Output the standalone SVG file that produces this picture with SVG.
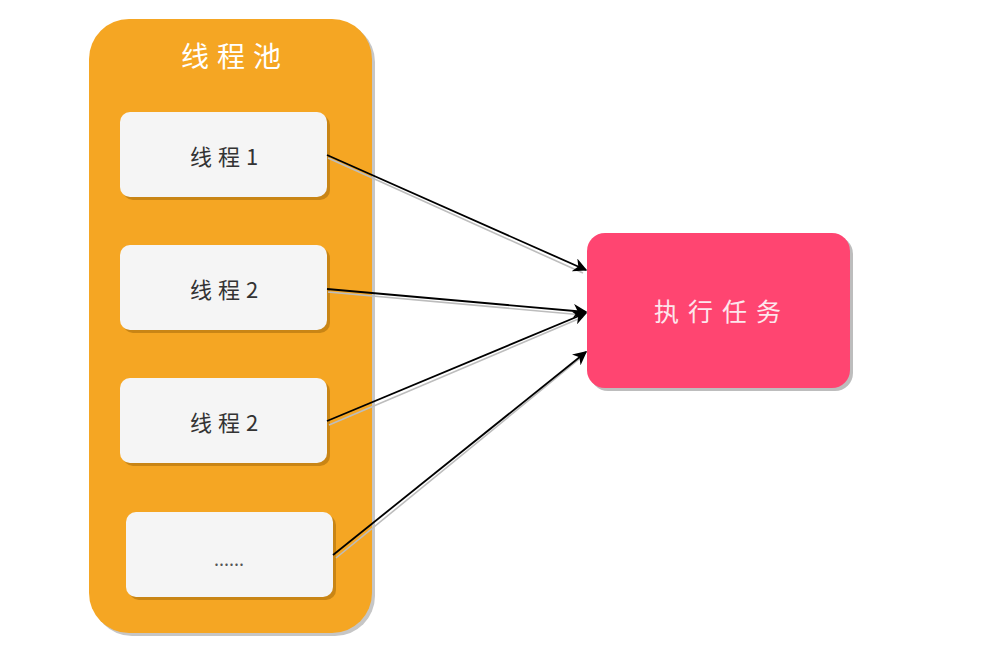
<svg xmlns="http://www.w3.org/2000/svg" width="992" height="649" viewBox="0 0 992 649">
<defs>
<style>
.cn{font-family:"Noto Sans CJK SC","Liberation Sans",sans-serif;text-anchor:middle;dominant-baseline:central}
.box{fill:#f5f5f5}
.boxsh{fill:#c98515}
.conn{stroke:#000;stroke-width:1.8;fill:none;marker-end:url(#ah)}
.connsh{stroke:#bdbdbd;stroke-width:1.6;fill:none}
</style>
<marker id="ah" viewBox="0 0 10 10" refX="9" refY="5" markerWidth="14" markerHeight="14" markerUnits="userSpaceOnUse" orient="auto">
<path d="M0,0 L10,5 L0,10 L3,5 Z" fill="#000"/>
</marker>
</defs>
<rect width="992" height="649" fill="#fff"/>
<g id="pool">
<rect x="92" y="22" width="283" height="614" rx="40" fill="#c6c6c6"/>
<rect x="89" y="19" width="283" height="614" rx="40" fill="#f5a623"/>
<text class="cn" x="235" y="55" font-size="28" letter-spacing="8" fill="#fff">线程池</text>
</g>
<g id="t1">
<rect class="boxsh" x="123" y="115" width="207" height="85" rx="10"/>
<rect class="box" x="120" y="112" width="207" height="85" rx="10"/>
<text class="cn" x="227" y="155" font-size="22" letter-spacing="6" fill="#333">线程1</text>
</g>
<g id="t2">
<rect class="boxsh" x="123" y="248" width="207" height="85" rx="10"/>
<rect class="box" x="120" y="245" width="207" height="85" rx="10"/>
<text class="cn" x="227" y="288" font-size="22" letter-spacing="6" fill="#333">线程2</text>
</g>
<g id="t3">
<rect class="boxsh" x="123" y="381" width="207" height="85" rx="10"/>
<rect class="box" x="120" y="378" width="207" height="85" rx="10"/>
<text class="cn" x="227" y="421" font-size="22" letter-spacing="6" fill="#333">线程2</text>
</g>
<g id="t4">
<rect class="boxsh" x="129" y="515" width="207" height="85" rx="10"/>
<rect class="box" x="126" y="512" width="207" height="85" rx="10"/>
<text class="cn" x="229" y="558" font-size="18" fill="#555">......</text>
</g>
<g id="task">
<rect x="590" y="236" width="263" height="155" rx="18" fill="#bdbdbd"/>
<rect x="587" y="233" width="263" height="155" rx="18" fill="#ff4571"/>
<text class="cn" x="722" y="310" font-size="25" letter-spacing="9" fill="#fde6ec">执行任务</text>
</g>
<g id="connectors">
<line class="connsh" x1="328" y1="158" x2="583" y2="273"/>
<line class="connsh" x1="328" y1="292" x2="583" y2="315"/>
<line class="connsh" x1="329" y1="425" x2="583" y2="317"/>
<line class="connsh" x1="336" y1="558" x2="583" y2="356"/>
<line class="conn" x1="327" y1="155" x2="586" y2="270"/>
<line class="conn" x1="327" y1="289" x2="586" y2="312"/>
<line class="conn" x1="327" y1="421" x2="586" y2="313"/>
<line class="conn" x1="333" y1="555" x2="586" y2="352"/>
</g>
</svg>
